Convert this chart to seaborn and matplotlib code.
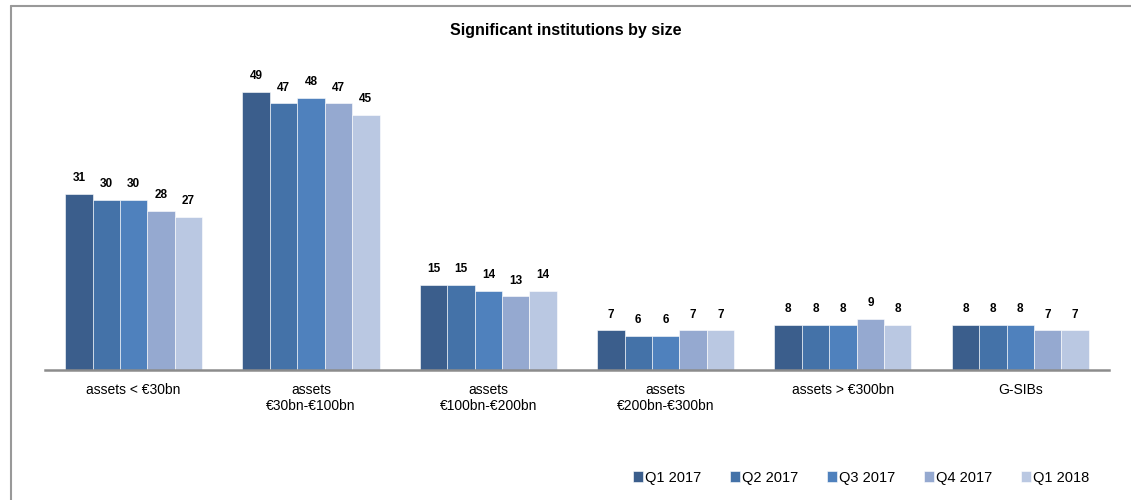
import numpy as np
import pandas as pd
import matplotlib as mpl
import matplotlib.pyplot as plt
import seaborn as sns

categories = ["assets < €30bn", "assets\n€30bn-€100bn", "assets\n€100bn-€200bn",
              "assets\n€200bn-€300bn", "assets > €300bn", "G-SIBs"]
series = ["Q1 2017", "Q2 2017", "Q3 2017", "Q4 2017", "Q1 2018"]
q1_2017 = [31, 49, 15, 7, 8, 8]
q2_2017 = [30, 47, 15, 6, 8, 8]
q3_2017 = [30, 48, 14, 6, 8, 8]
q4_2017 = [28, 47, 13, 7, 9, 7]
q1_2018 = [27, 45, 14, 7, 8, 7]
colors = ["#3B5E8C", "#4472A8", "#4F81BD", "#95A9D0", "#BAC8E2"]

sns.set_style("white")
plt.rcParams['font.family'] = ['Liberation Sans', 'DejaVu Sans']
plt.rcParams['text.color'] = 'black'
plt.rcParams['xtick.color'] = 'black'

rows = []
for name, vals in zip(series, [q1_2017, q2_2017, q3_2017, q4_2017, q1_2018]):
    for cat, v in zip(categories, vals):
        rows.append({"category": cat, "series": name, "value": v})
df = pd.DataFrame(rows)

fig = plt.figure(figsize=(11.31, 5.0), dpi=100)
ax = fig.add_axes([0.0398, 0.26, 0.9407, 0.624])

sns.barplot(data=df, x="category", y="value", hue="series", palette=colors,
            saturation=1, width=0.773, gap=0, edgecolor="white", linewidth=0.4, ax=ax)

for cont in ax.containers:
    ax.bar_label(cont, padding=7, fontsize=8.5, fontweight="bold", color="black")

ax.set_ylim(0, 55)
ax.set_xlim(-0.5, 5.5)
ax.set_yticks([])
ax.set_xlabel("")
ax.set_ylabel("")
for s in ["top", "right", "left"]:
    ax.spines[s].set_visible(False)
ax.spines["bottom"].set_color("#8C8C8C")
ax.spines["bottom"].set_linewidth(1.8)
ax.tick_params(axis="x", length=0, pad=9, labelsize=10, labelcolor="black")

fig.text(0.5, 0.94, "Significant institutions by size", ha="center", va="center",
         fontsize=11.5, fontweight="bold", color="black")

leg = ax.legend(loc="center", bbox_to_anchor=(0.767, -0.345), bbox_transform=ax.transAxes,
                ncol=5, frameon=False, fontsize=10.5, handlelength=0.7, handleheight=0.7,
                handletextpad=0.15, columnspacing=1.95)
for t in leg.get_texts():
    t.set_color("black")

# frame lines (top and left)
fig.add_artist(plt.Line2D([0.0097, 1.0], [0.988, 0.988], transform=fig.transFigure,
                          color="#999999", lw=1.5))
fig.add_artist(plt.Line2D([0.0097, 0.0097], [0.0, 0.988], transform=fig.transFigure,
                          color="#999999", lw=1.5))

fig.savefig("out.png", dpi=100)
